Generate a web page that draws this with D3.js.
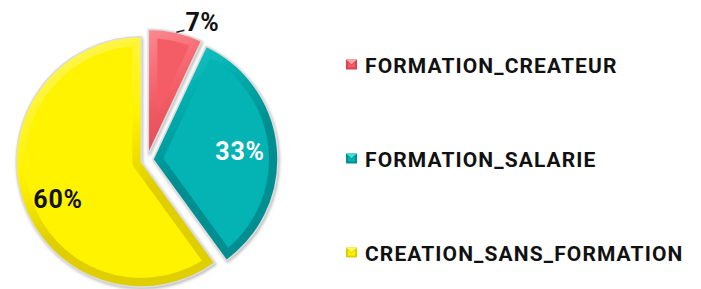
<!DOCTYPE html>
<html>
<head>
<meta charset="utf-8">
<script src="https://cdn.jsdelivr.net/npm/d3@7"></script>
<style>
    html, body { margin: 0; padding: 0; background: #fff; }
    svg { display: block; }
    text { font-family: Roboto, "Noto Sans", sans-serif; font-weight: 700; }
</style>
</head>
<body>
<div id="chart"></div>
<script>
const categories = ['FORMATION_CREATEUR', 'FORMATION_SALARIE', 'CREATION_SANS_FORMATION'];
const values = [7, 33, 60];
const valueLabels = ['7%', '33%', '60%'];

const faceColors = ['#f45d66', '#04b3b3', '#fff300'];
const lightColors = ['#ffa3a8', '#40dcdc', '#fff65a'];
const darkColors = ['#d84450', '#008e91', '#e0cf00'];
const labelColors = ['#111', '#fff', '#111'];
const labelNudge = [0, 0, 10];

const width = 701;
const height = 289;
const center = { x: 147, y: 160 };
const radius = 125;
const explode = 6;
const bevel = 9;

const svg = d3.select('#chart').append('svg')
    .attr('width', width)
    .attr('height', height);

const defs = svg.append('defs');
const shadow = defs.append('filter')
    .attr('id', 'shadow')
    .attr('x', '-20%').attr('y', '-20%')
    .attr('width', '140%').attr('height', '140%');
shadow.append('feDropShadow')
    .attr('dx', 1).attr('dy', 1.5)
    .attr('stdDeviation', 1.6)
    .attr('flood-color', '#8a8a8a')
    .attr('flood-opacity', 0.6);

// rim shading: light top-left, dark bottom-right (slice-local coords)
categories.forEach((c, i) => {
    const g = defs.append('linearGradient')
        .attr('id', 'rim' + i)
        .attr('gradientUnits', 'userSpaceOnUse')
        .attr('x1', -radius * 0.6).attr('y1', -radius)
        .attr('x2', radius * 0.5).attr('y2', radius);
    g.append('stop').attr('offset', '0%').attr('stop-color', lightColors[i]);
    g.append('stop').attr('offset', '35%').attr('stop-color', faceColors[i]);
    g.append('stop').attr('offset', '60%').attr('stop-color', darkColors[i]);
    g.append('stop').attr('offset', '100%').attr('stop-color', darkColors[i]);
});

const pie = d3.pie().sort(null).value(d => d);
const arcs = pie(values);

const outerArc = d3.arc().innerRadius(0).outerRadius(radius);

// inset face of a slice, edges offset inward by `bevel`
function facePath (a0, a1) {
    const p = d3.path();
    const r = radius - bevel;
    const t = Math.sqrt(r * r - bevel * bevel);
    const delta = Math.atan2(bevel, t);
    const theta = a1 - a0;
    const n0 = [Math.cos(a0) * bevel, Math.sin(a0) * bevel];
    const n1 = [-Math.cos(a1) * bevel, -Math.sin(a1) * bevel];
    if (theta < Math.PI) {
        const k = bevel / Math.sin(theta / 2);
        const mid = (a0 + a1) / 2;
        p.moveTo(Math.sin(mid) * k, -Math.cos(mid) * k);
    } else {
        p.moveTo(n0[0], n0[1]);
    }
    p.arc(0, 0, r, a0 + delta - Math.PI / 2, a1 - delta - Math.PI / 2);
    if (theta >= Math.PI) {
        p.lineTo(n1[0], n1[1]);
        p.arc(0, 0, bevel, a1 - Math.PI, a0, true);
    }
    p.closePath();
    return p.toString();
}

const slices = svg.append('g')
    .selectAll('g')
    .data(arcs)
    .join('g')
    .attr('transform', d => {
        const mid = (d.startAngle + d.endAngle) / 2;
        const x = center.x + Math.sin(mid) * explode;
        const y = center.y - Math.cos(mid) * explode;
        return `translate(${x}, ${y})`;
    });

slices.append('path')
    .attr('d', outerArc)
    .attr('fill', (d, i) => `url(#rim${i})`)
    .attr('stroke', '#dcdcdc')
    .attr('stroke-width', 1.5)
    .attr('filter', 'url(#shadow)');

slices.append('path')
    .attr('d', d => facePath(d.startAngle, d.endAngle))
    .attr('fill', (d, i) => faceColors[i]);

// labels
const labelRadius = radius * 0.7;
slices.each(function (d, i) {
    const g = d3.select(this);
    const mid = (d.startAngle + d.endAngle) / 2;
    if (d.data / d3.sum(values) < 0.1) {
        // small slice: label outside with a short leader
        const px = Math.sin(mid) * (radius + 4);
        const py = -Math.cos(mid) * (radius + 4);
        g.append('line')
            .attr('x1', px).attr('y1', py + 4)
            .attr('x2', px + 8).attr('y2', py + 2)
            .attr('stroke', '#222')
            .attr('stroke-width', 1.6);
        g.append('text')
            .attr('x', px + 9)
            .attr('y', py + 3)
            .attr('font-size', 25)
            .attr('letter-spacing', 0.5)
            .attr('fill', labelColors[i])
            .text(valueLabels[i]);
    } else {
        g.append('text')
            .attr('x', Math.sin(mid) * labelRadius)
            .attr('y', -Math.cos(mid) * labelRadius + labelNudge[i])
            .attr('dy', '0.36em')
            .attr('text-anchor', 'middle')
            .attr('font-size', 25)
            .attr('letter-spacing', 0.8)
            .attr('fill', labelColors[i])
            .text(valueLabels[i]);
    }
});

// legend
const legendY = d3.scalePoint()
    .domain(categories)
    .range([65.5, 253.5]);

const legend = svg.append('g')
    .selectAll('g')
    .data(categories)
    .join('g')
    .attr('transform', d => `translate(345, ${legendY(d)})`);

legend.append('rect')
    .attr('x', 1).attr('y', -6)
    .attr('width', 11).attr('height', 10)
    .attr('fill', (d, i) => darkColors[i]);

legend.append('path')
    .attr('d', 'M1,-6 L6.5,-1 L12,-6 Z')
    .attr('fill', (d, i) => lightColors[i]);

legend.append('path')
    .attr('d', 'M3,-3 L6.5,0 L10,-3 L10,2 L3,2 Z')
    .attr('fill', (d, i) => faceColors[i]);

legend.append('text')
    .attr('x', 20)
    .attr('y', 7.5)
    .attr('font-size', 21)
    .attr('letter-spacing', 1.1)
    .attr('fill', '#111')
    .text(d => d);
</script>
</body>
</html>
